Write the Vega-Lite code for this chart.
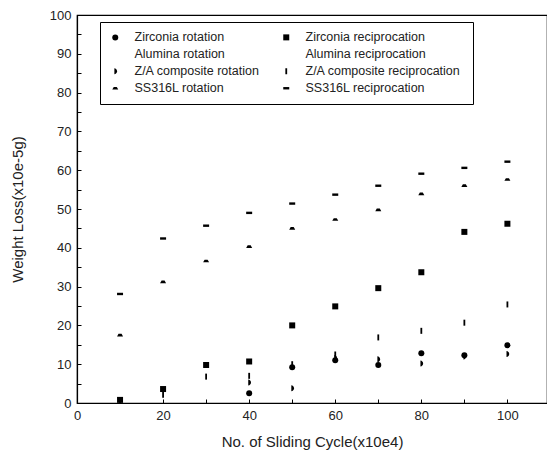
{
  "$schema": "https://vega.github.io/schema/vega-lite/v6.json",
  "autosize": {"type": "none"},
  "padding": {"left": 77, "top": 15, "right": 0, "bottom": 51},
  "width": 470,
  "height": 388,
  "background": "white",
  "config": {
    "font": "Liberation Sans",
    "view": {"stroke": "black", "strokeWidth": 1.2},
    "axis": {
      "domainColor": "black",
      "domainWidth": 1.2,
      "tickColor": "black",
      "tickSize": -4,
      "grid": false,
      "labelColor": "#222",
      "labelFontSize": 13,
      "titleFontSize": 15,
      "titleFontWeight": "normal",
      "titleColor": "#222"
    }
  },
  "data": {
    "values": [
      {"cycle": 10, "loss": 28.1, "series": "SS316L reciprocation"},
      {"cycle": 20, "loss": 42.4, "series": "SS316L reciprocation"},
      {"cycle": 30, "loss": 45.7, "series": "SS316L reciprocation"},
      {"cycle": 40, "loss": 49.0, "series": "SS316L reciprocation"},
      {"cycle": 50, "loss": 51.4, "series": "SS316L reciprocation"},
      {"cycle": 60, "loss": 53.7, "series": "SS316L reciprocation"},
      {"cycle": 70, "loss": 56.0, "series": "SS316L reciprocation"},
      {"cycle": 80, "loss": 59.1, "series": "SS316L reciprocation"},
      {"cycle": 90, "loss": 60.6, "series": "SS316L reciprocation"},
      {"cycle": 100, "loss": 62.2, "series": "SS316L reciprocation"},
      {"cycle": 10, "loss": 17.5, "series": "SS316L rotation"},
      {"cycle": 20, "loss": 31.2, "series": "SS316L rotation"},
      {"cycle": 30, "loss": 36.6, "series": "SS316L rotation"},
      {"cycle": 40, "loss": 40.3, "series": "SS316L rotation"},
      {"cycle": 50, "loss": 45.0, "series": "SS316L rotation"},
      {"cycle": 60, "loss": 47.3, "series": "SS316L rotation"},
      {"cycle": 70, "loss": 49.8, "series": "SS316L rotation"},
      {"cycle": 80, "loss": 53.9, "series": "SS316L rotation"},
      {"cycle": 90, "loss": 56.0, "series": "SS316L rotation"},
      {"cycle": 100, "loss": 57.6, "series": "SS316L rotation"},
      {"cycle": 10, "loss": 0.8, "series": "Zirconia reciprocation"},
      {"cycle": 20, "loss": 3.6, "series": "Zirconia reciprocation"},
      {"cycle": 30, "loss": 9.8, "series": "Zirconia reciprocation"},
      {"cycle": 40, "loss": 10.7, "series": "Zirconia reciprocation"},
      {"cycle": 50, "loss": 20.0, "series": "Zirconia reciprocation"},
      {"cycle": 60, "loss": 24.9, "series": "Zirconia reciprocation"},
      {"cycle": 70, "loss": 29.6, "series": "Zirconia reciprocation"},
      {"cycle": 80, "loss": 33.7, "series": "Zirconia reciprocation"},
      {"cycle": 90, "loss": 44.1, "series": "Zirconia reciprocation"},
      {"cycle": 100, "loss": 46.2, "series": "Zirconia reciprocation"},
      {"cycle": 10, "loss": 0.8, "series": "Z/A  composite reciprocation"},
      {"cycle": 20, "loss": 2.1, "series": "Z/A  composite reciprocation"},
      {"cycle": 30, "loss": 6.8, "series": "Z/A  composite reciprocation"},
      {"cycle": 40, "loss": 7.0, "series": "Z/A  composite reciprocation"},
      {"cycle": 50, "loss": 10.0, "series": "Z/A  composite reciprocation"},
      {"cycle": 60, "loss": 12.5, "series": "Z/A  composite reciprocation"},
      {"cycle": 70, "loss": 16.9, "series": "Z/A  composite reciprocation"},
      {"cycle": 80, "loss": 18.6, "series": "Z/A  composite reciprocation"},
      {"cycle": 90, "loss": 20.7, "series": "Z/A  composite reciprocation"},
      {"cycle": 100, "loss": 25.4, "series": "Z/A  composite reciprocation"},
      {"cycle": 40, "loss": 2.5, "series": "Zirconia rotation"},
      {"cycle": 50, "loss": 9.2, "series": "Zirconia rotation"},
      {"cycle": 60, "loss": 11.0, "series": "Zirconia rotation"},
      {"cycle": 70, "loss": 9.8, "series": "Zirconia rotation"},
      {"cycle": 80, "loss": 12.8, "series": "Zirconia rotation"},
      {"cycle": 90, "loss": 12.3, "series": "Zirconia rotation"},
      {"cycle": 100, "loss": 14.9, "series": "Zirconia rotation"},
      {"cycle": 40, "loss": 5.3, "series": "Z/A composite rotation"},
      {"cycle": 50, "loss": 3.8, "series": "Z/A composite rotation"},
      {"cycle": 60, "loss": 11.6, "series": "Z/A composite rotation"},
      {"cycle": 70, "loss": 11.3, "series": "Z/A composite rotation"},
      {"cycle": 80, "loss": 10.2, "series": "Z/A composite rotation"},
      {"cycle": 90, "loss": 12.0, "series": "Z/A composite rotation"},
      {"cycle": 100, "loss": 12.6, "series": "Z/A composite rotation"}
    ]
  },
  "mark": {"type": "point", "filled": true, "color": "black", "opacity": 1, "size": 36, "clip": true},
  "encoding": {
    "x": {
      "field": "cycle",
      "type": "quantitative",
      "scale": {"domain": [0, 109.2], "nice": false, "zero": true},
      "axis": {
        "title": "No. of Sliding Cycle(x10e4)",
        "values": [0, 10, 20, 30, 40, 50, 60, 70, 80, 90, 100],
        "labelExpr": "datum.value % 20 == 0 ? datum.label : ''",
        "labelPadding": 10,
        "titlePadding": 12,
        "labelFlush": false
      }
    },
    "y": {
      "field": "loss",
      "type": "quantitative",
      "scale": {"domain": [0, 100], "nice": false},
      "axis": {
        "title": "Weight Loss(x10e-5g)",
        "values": [0, 5, 10, 15, 20, 25, 30, 35, 40, 45, 50, 55, 60, 65, 70, 75, 80, 85, 90, 95, 100],
        "labelExpr": "datum.value % 10 == 0 ? datum.label : ''",
        "labelPadding": 10,
        "titlePadding": 24,
        "labelFlush": false
      }
    },
    "shape": {
      "field": "series",
      "type": "nominal",
      "scale": {
        "domain": ["Zirconia rotation", "Alumina rotation", "Z/A composite rotation", "SS316L rotation", "Zirconia reciprocation", "Alumina reciprocation", "Z/A  composite reciprocation", "SS316L reciprocation"],
        "range": ["circle", "M0,0Z", "M-0.3,-1A0.9,1 0 0 1 -0.3,1Z", "M-1,0.45L-0.5,-0.45H0.5L1,0.45Z", "square", "M0,0Z", "M-0.3,-1H0.3V1H-0.3Z", "M-1,-0.4H1V0.4H-1Z"]
      },
      "legend": {
        "title": null,
        "orient": "none",
        "legendX": 23,
        "legendY": 7,
        "columns": 2,
        "direction": "vertical",
        "strokeColor": "black",
        "padding": 9,
        "rowPadding": 4,
        "columnPadding": 20,
        "labelFontSize": 12.5,
        "labelColor": "#222",
        "labelOffset": 13,
        "symbolFillColor": "black",
        "symbolStrokeColor": "black",
        "symbolStrokeWidth": 0,
        "symbolSize": 36,
        "labelLimit": 300
      }
    }
  }
}
